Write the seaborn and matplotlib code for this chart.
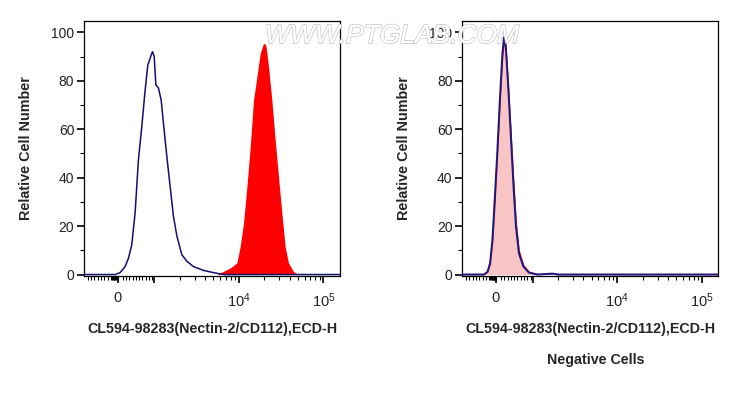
import numpy as np
import pandas as pd
import seaborn as sns
from matplotlib import pyplot as plt
import matplotlib.patheffects as pe

# x values are in display units of the biexponential axis (3 = 10^3, 4 = 10^4 ...)
left_blue_x = [2.17, 2.538, 2.597, 2.656, 2.695, 2.735, 2.774, 2.813, 2.853, 2.892, 2.924, 2.960, 2.979,
               2.999, 3.019, 3.050, 3.082, 3.109, 3.149, 3.188, 3.227, 3.267, 3.326, 3.385, 3.463,
               3.582, 3.700, 3.818, 5.20]
left_blue_y = [0, 0, 0.8, 3.3, 6.7, 12.4, 25.5, 47.3, 61.1, 76, 86.5, 90.2, 92,
               90.2, 78.3, 77, 72, 62.4, 48.7, 36.3, 24, 16, 8.2, 5.5, 3.3,
               1.7, 0.8, 0, 0]

left_red_x = [3.740, 3.897, 3.976, 4.015, 4.054, 4.095, 4.134, 4.173, 4.213, 4.252, 4.291, 4.319,
              4.350, 4.390, 4.429, 4.468, 4.508, 4.547, 4.586, 4.645, 4.705]
left_red_y = [0, 2.7, 4.8, 11.5, 21, 36.3, 52.8, 72, 81.7, 91.3, 95.5, 94.8,
              86, 72, 55.6, 40.5, 25.4, 11.5, 4.8, 1.2, 0]

right_pink_x = [2.17, 2.431, 2.471, 2.501, 2.529, 2.556, 2.588, 2.619, 2.647, 2.666, 2.686, 2.713,
                2.745, 2.776, 2.807, 2.842, 2.894, 2.960, 3.059, 3.235, 3.30, 5.20]
right_pink_y = [0, 0, 1.0, 4.2, 13.5, 29.5, 50.5, 72.5, 90.0, 95.5, 93.8, 79.5,
                59.5, 39.5, 21.5, 9.8, 3.8, 1.0, 0, 0.3, 0, 0]
right_blue_x = [2.17, 2.428, 2.468, 2.498, 2.526, 2.553, 2.585, 2.616, 2.644, 2.663, 2.683, 2.710,
                2.742, 2.773, 2.804, 2.839, 2.891, 2.957, 3.059, 3.235, 3.30, 5.20]
right_blue_y = [0, 0, 1.2, 4.7, 14.4, 30.9, 51.6, 73.6, 91.3, 98, 94.8, 79,
                58.3, 37.7, 19.8, 8.8, 3.3, 0.8, 0, 0.4, 0, 0]

x_tick_pos = [2.568, 3.0, 4.0, 5.0]
x_tick_labels = ["0", "", "$10^4$", "$10^5$"]
y_ticks = [0, 20, 40, 60, 80, 100]

x_label = "CL594-98283(Nectin-2/CD112),ECD-H"
y_label = "Relative Cell Number"

sns.set_style("ticks")
plt.rcParams['font.family'] = ['Liberation Sans', 'DejaVu Sans']
plt.rcParams['mathtext.default'] = 'regular'

fig = plt.figure(figsize=(7.39, 3.97), dpi=100)
ax1 = fig.add_axes([84 / 739, 121 / 397, 256 / 739, 255.3 / 397])
ax2 = fig.add_axes([462.3 / 739, 121 / 397, 256 / 739, 255.3 / 397])

minor_x = list(np.arange(2.215, 2.56, 0.039)) + list(np.arange(2.50, 2.575, 0.01)) + \
    list(np.arange(2.627, 2.99, 0.039))
for k in (3, 4):
    minor_x += [k + np.log10(m) for m in range(2, 10)]

left = pd.DataFrame({"x": left_blue_x, "y": left_blue_y})
red = pd.DataFrame({"x": left_red_x, "y": left_red_y})
ax1.fill_between(red["x"], red["y"], color="#ff0000", lw=0, zorder=2)
sns.lineplot(data=left, x="x", y="y", ax=ax1, color="#101070", lw=1.1, sort=False, zorder=3)

pink = pd.DataFrame({"x": right_pink_x, "y": right_pink_y})
rblue = pd.DataFrame({"x": right_blue_x, "y": right_blue_y})
ax2.fill_between(pink["x"], pink["y"], color="#f9c4c4", lw=0, zorder=2)
ax2.plot(pink["x"], pink["y"], color="#e01020", lw=1.0, zorder=3)
sns.lineplot(data=rblue, x="x", y="y", ax=ax2, color="#1a1a80", lw=1.4, sort=False, zorder=4)

for ax in (ax1, ax2):
    ax.set_xlim(2.17, 5.195)
    ax.set_ylim(-0.6, 104.8)
    ax.set_xticks(x_tick_pos)
    ax.set_xticklabels(x_tick_labels, fontsize=10.5, color="#222222")
    ax.set_xticks(minor_x, minor=True)
    ax.set_yticks(y_ticks)
    ax.set_yticklabels([str(v) for v in y_ticks], fontsize=10, color="#222222")
    ax.set_yticks([10, 30, 50, 70, 90], minor=True)
    ax.tick_params(axis="both", which="major", length=5, width=1.2, color="black", pad=2)
    ax.tick_params(axis="both", which="minor", length=3, width=0.8, color="black")
    ax.tick_params(axis="x", which="major", pad=6)
    for s in ax.spines.values():
        s.set_visible(True)
        s.set_color("black")
        s.set_linewidth(0.9)
    ax.set_xlabel(x_label, fontsize=10.3, fontweight="bold")
    ax.xaxis.set_label_coords(0.5, -0.18)
    ax.set_ylabel(y_label, fontsize=10.4, fontweight="bold")
    ax.yaxis.set_label_coords(-0.2, 0.5)

fig.text(596 / 739, 1 - 360 / 397, "Negative Cells", fontsize=10.3, fontweight="bold",
         ha="center", va="center")

wm = fig.text(392 / 739, 1 - 36 / 397, "WWW.PTGLAB.COM", fontsize=19, style="italic",
              ha="center", va="center", color="white", alpha=0.9)
wm.set_path_effects([pe.withStroke(linewidth=1.2, foreground="#c4c4c4"), pe.Normal()])

fig.savefig("out.png", dpi=100)
